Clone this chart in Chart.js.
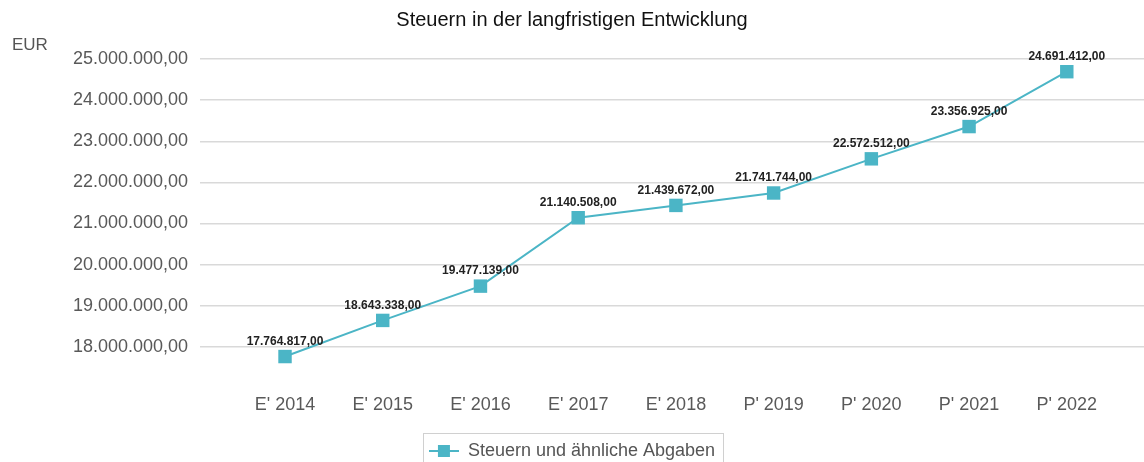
<!DOCTYPE html>
<html>
<head>
<meta charset="utf-8">
<script src="https://cdn.jsdelivr.net/npm/chart.js@4"></script>
<style>
  html, body { margin: 0; padding: 0; background: #fff; overflow: hidden; }
  #wrap { width: 1144px; height: 480px; }
</style>
</head>
<body>
<div id="wrap"><canvas id="steuern"></canvas></div>
<script>
// Werte aus der Grafik
const categories = ["E' 2014", "E' 2015", "E' 2016", "E' 2017", "E' 2018", "P' 2019", "P' 2020", "P' 2021", "P' 2022"];
const steuern = [17764817, 18643338, 19477139, 21140508, 21439672, 21741744, 22572512, 23356925, 24691412];
const yTicks = [18000000, 19000000, 20000000, 21000000, 22000000, 23000000, 24000000, 25000000];

const teal = '#4bb5c6';

function fmt(v) {
  const s = Math.round(v).toString().replace(/\B(?=(\d{3})+(?!\d))/g, '.');
  return s + ',00';
}

// legend marker: line with square
const marker = document.createElement('canvas');
marker.width = 30; marker.height = 14;
(function () {
  const c = marker.getContext('2d');
  c.strokeStyle = teal; c.lineWidth = 2;
  c.beginPath(); c.moveTo(0, 7); c.lineTo(30, 7); c.stroke();
  c.fillStyle = teal; c.fillRect(9, 1, 12, 12);
})();

const dataLabels = {
  id: 'dataLabels',
  afterDatasetsDraw(chart) {
    const ctx = chart.ctx;
    const meta = chart.getDatasetMeta(0);
    ctx.save();
    ctx.font = 'bold 12px "Liberation Sans", Arial, sans-serif';
    ctx.fillStyle = '#222';
    ctx.textAlign = 'center';
    ctx.textBaseline = 'middle';
    meta.data.forEach((pt, i) => {
      ctx.fillText(fmt(steuern[i]), pt.x, pt.y - 15);
    });
    ctx.restore();
  }
};

const extras = {
  id: 'extras',
  afterDraw(chart) {
    const ctx = chart.ctx;
    ctx.save();
    // Einheit
    ctx.font = '17px "Liberation Sans", Arial, sans-serif';
    ctx.fillStyle = '#555';
    ctx.textBaseline = 'middle';
    ctx.fillText('EUR', 12, chart.chartArea.top - 14);
    // Rahmen um die Legende
    const b = chart.legend.legendHitBoxes[0];
    if (b) {
      ctx.strokeStyle = '#d0d0d0';
      ctx.lineWidth = 1;
      ctx.strokeRect(Math.round(b.left - 6) + 0.5, Math.round(b.top - 9) + 0.5, Math.round(b.width + 14), 40);
    }
    ctx.restore();
  }
};

new Chart(document.getElementById('steuern'), {
  type: 'line',
  data: {
    datasets: [{
      label: 'Steuern und ähnliche Abgaben',
      data: steuern.map((v, i) => ({ x: i, y: v })),
      borderColor: teal,
      backgroundColor: teal,
      borderWidth: 2,
      pointStyle: 'rect',
      pointRadius: 9.5,
      pointHoverRadius: 9.5,
      pointBorderWidth: 0,
      tension: 0
    }]
  },
  options: {
    responsive: true,
    maintainAspectRatio: false,
    animation: false,
    layout: { autoPadding: false, padding: { left: 0, right: 0, top: 8, bottom: 10 } },
    plugins: {
      title: {
        display: true,
        text: 'Steuern in der langfristigen Entwicklung',
        color: '#111',
        font: { family: '"Liberation Sans", Arial, sans-serif', size: 20, weight: 'normal' },
        padding: { top: 0, bottom: 27 }
      },
      legend: {
        position: 'bottom',
        labels: {
          color: '#555',
          font: { family: '"Liberation Sans", Arial, sans-serif', size: 18 },
          usePointStyle: true,
          pointStyleWidth: 30,
          padding: 10,
          generateLabels(chart) {
            const items = Chart.defaults.plugins.legend.labels.generateLabels(chart);
            items.forEach(it => { it.pointStyle = marker; });
            return items;
          }
        }
      },
      tooltip: { enabled: false }
    },
    scales: {
      x: {
        type: 'linear',
        min: -0.87,
        max: 8.79,
        afterBuildTicks(scale) {
          scale.ticks = categories.map((_, i) => ({ value: i }));
        },
        afterFit(scale) { scale.height = 44; },
        grid: { display: false, drawTicks: false, tickLength: 0 },
        border: { display: false },
        ticks: {
          color: '#595959',
          padding: 6,
          maxRotation: 0,
          autoSkip: false,
          font: { family: '"Liberation Sans", Arial, sans-serif', size: 18 },
          callback: (v) => categories[v]
        }
      },
      y: {
        min: 17000000,
        max: 25000000,
        afterBuildTicks(scale) {
          scale.ticks = [{ value: 17000000 }].concat(yTicks.map(v => ({ value: v })));
        },
        afterFit(scale) { scale.width = 200; },
        border: { display: false },
        grid: {
          drawTicks: false,
          color: (c) => (c.tick && c.tick.value === 17000000) ? 'rgba(0,0,0,0)' : '#d9d9d9',
          lineWidth: 1.5
        },
        ticks: {
          color: '#595959',
          padding: 12,
          font: { family: '"Liberation Sans", Arial, sans-serif', size: 18 },
          callback: (v) => v === 17000000 ? '' : fmt(v)
        }
      }
    }
  },
  plugins: [dataLabels, extras]
});
</script>
</body>
</html>
